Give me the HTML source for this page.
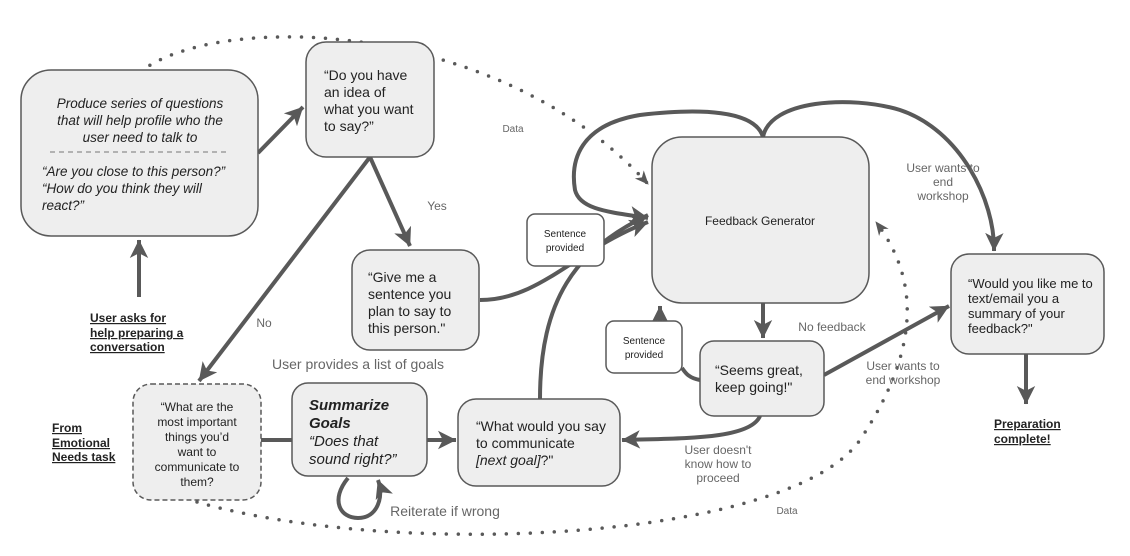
<!DOCTYPE html>
<html><head><meta charset="utf-8"><style>
body{margin:0;background:#fff}
svg{display:block}
text{font-family:"Liberation Sans",Arial,sans-serif}
</style></head><body>
<svg width="1130" height="556" viewBox="0 0 1130 556" xmlns="http://www.w3.org/2000/svg">
<defs>
<marker id="ar" markerWidth="5" markerHeight="5" refX="4.5" refY="2.5" orient="auto" markerUnits="strokeWidth">
<path d="M0,0.2 L4.6,2.5 L0,4.8 L1.2,2.5 z" fill="#595959"/></marker>
<marker id="ars" markerWidth="14" markerHeight="14" refX="13" refY="7" orient="auto" markerUnits="userSpaceOnUse">
<path d="M0,1 L14,7 L0,13 L4,7 z" fill="#595959"/></marker>
</defs>
<g fill="none" stroke="#595959" stroke-width="4">
<path d="M140,72 C220,10 500,20 648,184" stroke-width="3.5" stroke-dasharray="0 12" stroke-linecap="round" marker-end="url(#ars)"/>
<path d="M197,502 C400,560 790,540 860,440 C920,350 920,280 876,222" stroke-width="3.5" stroke-dasharray="0 12" stroke-linecap="round" marker-end="url(#ars)"/>
<path d="M139,297 L139,240" marker-end="url(#ar)"/>
<path d="M258,153 L303,107" marker-end="url(#ar)"/>
<path d="M370,157 L410,246" marker-end="url(#ar)"/>
<path d="M370,157 L199,381" marker-end="url(#ar)"/>
<path d="M261,440 L292,440"/>
<path d="M427,440 L456,440" marker-end="url(#ar)"/>
<path d="M348,478 C330,500 340,518 358,518 C378,518 384,496 378,480" marker-end="url(#ar)"/>
<path d="M480,300 C540,300 575,250 648,222" marker-end="url(#ar)"/>
<path d="M540,399 C540,300 575,250 648,215" marker-end="url(#ar)"/>
<path d="M763,137 C755,110 700,108 640,115 C580,125 570,160 575,190 C580,210 610,212 648,218" marker-end="url(#ar)"/>
<path d="M763,137 C770,100 850,95 900,110 C960,130 995,200 994,251" marker-end="url(#ar)"/>
<path d="M763,303 L763,338" marker-end="url(#ar)"/>
<path d="M700,380 C688,378 685,372 682,368"/>
<path d="M660,321 L660,306" marker-end="url(#ar)"/>
<path d="M824,375 L949,306" marker-end="url(#ar)"/>
<path d="M760,416 C750,440 680,438 622,440" marker-end="url(#ar)"/>
<path d="M1026,354 L1026,404" marker-end="url(#ar)"/>
</g>
<g stroke="#595959" stroke-width="1.5" fill="#eeeeee">
<rect x="21" y="70" width="237" height="166" rx="30"/>
<rect x="306" y="42" width="128" height="115" rx="20"/>
<rect x="352" y="250" width="127" height="100" rx="18"/>
<rect x="133" y="384" width="128" height="116" rx="18" stroke-dasharray="5 3"/>
<rect x="292" y="383" width="135" height="93" rx="16"/>
<rect x="458" y="399" width="162" height="87" rx="18"/>
<rect x="652" y="137" width="217" height="166" rx="30"/>
<rect x="700" y="341" width="124" height="75" rx="14"/>
<rect x="951" y="254" width="153" height="100" rx="18"/>
<rect x="527" y="214" width="77" height="52" rx="8" fill="#fff"/>
<rect x="606" y="321" width="76" height="52" rx="8" fill="#fff"/>
</g>
<line x1="50" y1="152" x2="228" y2="152" stroke="#777" stroke-width="1" stroke-dasharray="5 4"/>
<g font-size="13.5" fill="#222" font-style="italic" text-anchor="middle">
<text x="140" y="108">Produce series of questions</text>
<text x="140" y="125">that will help profile who the</text>
<text x="140" y="142">user need to talk to</text>
</g>
<g font-size="13.5" fill="#222" font-style="italic">
<text x="42" y="176">“Are you close to this person?”</text>
<text x="42" y="193">“How do you think they will</text>
<text x="42" y="210">react?”</text>
</g>
<g font-size="14" fill="#222">
<text x="324" y="80">“Do you have</text><text x="324" y="97">an idea of</text><text x="324" y="114">what you want</text><text x="324" y="131">to say?”</text>
<text x="368" y="282">“Give me a</text><text x="368" y="299">sentence you</text><text x="368" y="316">plan to say to</text><text x="368" y="333">this person."</text>
<text x="476" y="431">“What would you say</text><text x="476" y="448">to communicate</text><text x="476" y="465"><tspan font-style="italic">[next goal]</tspan>?"</text>
<text x="715" y="375">“Seems great,</text><text x="715" y="392">keep going!"</text>
</g>
<g font-size="13" fill="#222">
<text x="968" y="288">“Would you like me to</text><text x="968" y="303">text/email you a</text><text x="968" y="318">summary of your</text><text x="968" y="333">feedback?"</text>
</g>
<g font-size="12" fill="#222" text-anchor="middle">
<text x="197" y="411">“What are the</text><text x="197" y="426">most important</text><text x="197" y="441">things you’d</text><text x="197" y="456">want to</text><text x="197" y="471">communicate to</text><text x="197" y="486">them?</text>
<text x="760" y="225">Feedback Generator</text>
</g>
<g font-size="10" fill="#222" text-anchor="middle">
<text x="565" y="237">Sentence</text><text x="565" y="251">provided</text>
<text x="644" y="344">Sentence</text><text x="644" y="358">provided</text>
</g>
<g font-size="15" fill="#222" font-style="italic">
<text x="309" y="410" font-weight="bold">Summarize</text><text x="309" y="428" font-weight="bold">Goals</text>
<text x="309" y="446">“Does that</text><text x="309" y="464">sound right?”</text>
</g>
<g font-size="12" fill="#222" font-weight="bold" text-decoration="underline">
<text x="90" y="322">User asks for</text><text x="90" y="337">help preparing a</text><text x="90" y="351">conversation</text>
<text x="52" y="432">From</text><text x="52" y="447">Emotional</text><text x="52" y="461">Needs task</text>
<text x="994" y="428">Preparation</text><text x="994" y="443">complete!</text>
</g>
<g fill="#666" font-size="12" text-anchor="middle">
<text x="264" y="327">No</text>
<text x="437" y="210">Yes</text>
<text x="513" y="132" font-size="10">Data</text>
<text x="787" y="514" font-size="10">Data</text>
<text x="358" y="369" font-size="14">User provides a list of goals</text>
<text x="445" y="516" font-size="14">Reiterate if wrong</text>
<text x="943" y="172">User wants to</text><text x="943" y="186">end</text><text x="943" y="200">workshop</text>
<text x="832" y="331">No feedback</text>
<text x="903" y="370">User wants to</text><text x="903" y="384">end workshop</text>
<text x="718" y="454">User doesn't</text><text x="718" y="468">know how to</text><text x="718" y="482">proceed</text>
</g>
</svg>
</body></html>
